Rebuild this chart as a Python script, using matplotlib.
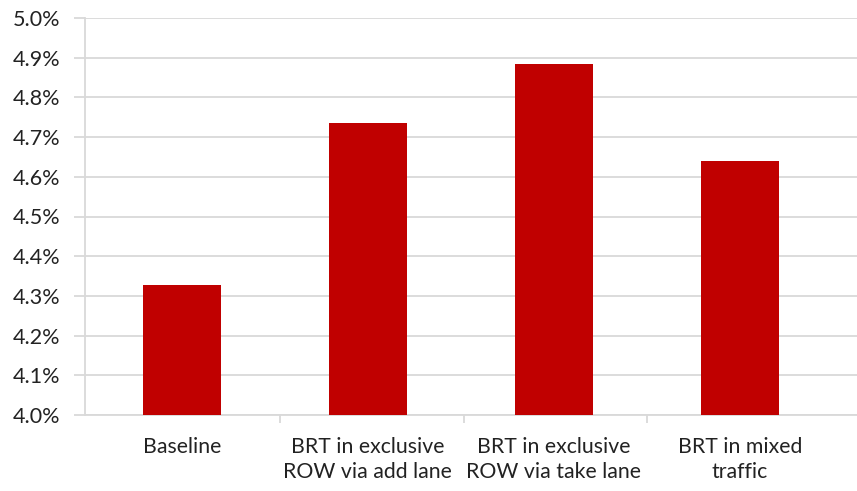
import matplotlib.pyplot as plt
from matplotlib.ticker import FuncFormatter, FixedLocator

# data
categories = ['Baseline', 'BRT in exclusive\nROW via add lane',
              'BRT in exclusive\nROW via take lane', 'BRT in mixed\ntraffic']
shares = [4.328, 4.736, 4.885, 4.639]
y_ticks = [4.0, 4.1, 4.2, 4.3, 4.4, 4.5, 4.6, 4.7, 4.8, 4.9, 5.0]

plt.rcParams['font.family'] = ['Lato', 'DejaVu Sans']

fig = plt.figure(figsize=(8.57, 4.91), dpi=100)
ax = fig.add_axes([85 / 857, 76 / 491, 1 - 85 / 857, 397 / 491])

grid_c = '#D9D9D9'
pos = list(range(len(categories)))
ax.bar(pos, [v - 4.0 for v in shares], bottom=4.0, width=0.42,
       color='#C00000', zorder=3)

ax.set_ylim(4.0, 5.0)
ax.set_xlim(-0.52, 3.63)
ax.set_yticks(y_ticks)
ax.yaxis.set_major_formatter(FuncFormatter(lambda v, p: '%.1f%%' % v))
ax.grid(axis='y', color=grid_c, linewidth=1.3, zorder=0)

ax.set_xticks(pos)
ax.set_xticklabels(categories, fontsize=15.3, color='#222222', linespacing=1.3)
ax.tick_params(axis='x', which='major', length=0, pad=16)
ax.xaxis.set_minor_locator(FixedLocator([0.53, 1.52, 2.5]))
ax.tick_params(axis='x', which='minor', length=6, color=grid_c, width=1.3)
ax.tick_params(axis='y', length=8, color=grid_c, width=1.3, pad=10,
               labelsize=15.5, labelcolor='#222222')

for s in ['top', 'right']:
    ax.spines[s].set_visible(False)
for s in ['left', 'bottom']:
    ax.spines[s].set_color(grid_c)
    ax.spines[s].set_linewidth(1.3)

fig.savefig('out.png', dpi=100)
